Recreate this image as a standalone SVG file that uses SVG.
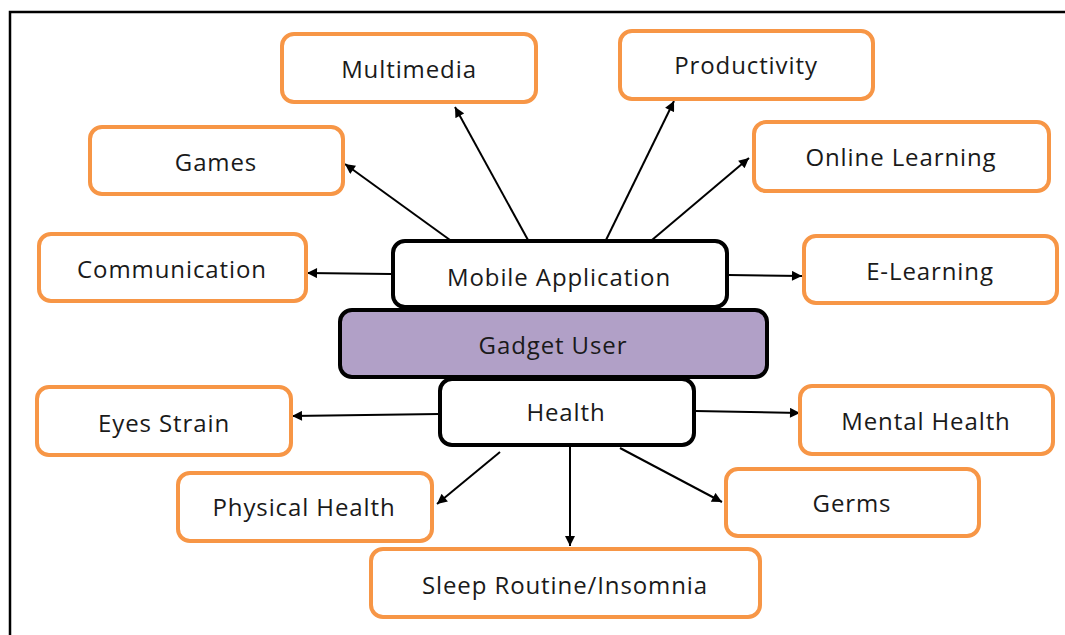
<svg xmlns="http://www.w3.org/2000/svg" width="1065" height="635" viewBox="0 0 1065 635">
<style>
.leaf rect{fill:#fff;stroke:#f79646;stroke-width:4}
.core rect{fill:#fff;stroke:#000;stroke-width:4}
#gadget rect{fill:#b1a0c7}
text{font-family:"Open Sans","Noto Sans",sans-serif;font-size:24px;letter-spacing:0.9px;fill:#1a1a1a;text-anchor:middle;dominant-baseline:central}
.conn line{stroke:#000;stroke-width:2;marker-end:url(#ah)}
</style>
<defs>
<marker id="ah" viewBox="0 0 10 10" refX="10" refY="5" markerWidth="11" markerHeight="10" markerUnits="userSpaceOnUse" orient="auto">
<path d="M0,0 L10,5 L0,10 z" fill="#000"/>
</marker>
</defs>
<rect x="0" y="0" width="1065" height="635" fill="#fff"/>
<path d="M10,635 V12 H1065" fill="none" stroke="#000" stroke-width="2.5"/>
<g class="conn">
<line x1="450" y1="240" x2="345" y2="164"/>
<line x1="528" y1="240" x2="455" y2="107"/>
<line x1="606" y1="240" x2="674" y2="101"/>
<line x1="652" y1="240" x2="749" y2="158"/>
<line x1="391" y1="274" x2="307" y2="273"/>
<line x1="728" y1="275" x2="802" y2="276"/>
<line x1="439" y1="414" x2="292" y2="416"/>
<line x1="695" y1="411" x2="800" y2="413"/>
<line x1="500" y1="452" x2="437" y2="504"/>
<line x1="570" y1="447" x2="570" y2="546"/>
<line x1="620" y1="448" x2="722" y2="502"/>
</g>
<g id="multimedia" class="leaf"><rect x="282" y="34" width="254" height="68" rx="12"/><text x="409" y="68">Multimedia</text></g>
<g id="productivity" class="leaf"><rect x="620" y="31" width="253" height="68" rx="12"/><text x="746" y="64">Productivity</text></g>
<g id="games" class="leaf"><rect x="90" y="127" width="253" height="67" rx="12"/><text x="216" y="161">Games</text></g>
<g id="online" class="leaf"><rect x="754" y="122" width="295" height="69" rx="12"/><text x="901" y="156">Online Learning</text></g>
<g id="communication" class="leaf"><rect x="39" y="234" width="267" height="67" rx="12"/><text x="172" y="268">Communication</text></g>
<g id="elearning" class="leaf"><rect x="804" y="236" width="253" height="67" rx="12"/><text x="930" y="270">E-Learning</text></g>
<g id="eyes" class="leaf"><rect x="37" y="387" width="254" height="68" rx="12"/><text x="164" y="422">Eyes Strain</text></g>
<g id="mental" class="leaf"><rect x="800" y="386" width="253" height="68" rx="12"/><text x="926" y="420">Mental Health</text></g>
<g id="physical" class="leaf"><rect x="178" y="473" width="254" height="68" rx="12"/><text x="304" y="506">Physical Health</text></g>
<g id="germs" class="leaf"><rect x="726" y="469" width="253" height="67" rx="12"/><text x="852" y="502">Germs</text></g>
<g id="sleep" class="leaf"><rect x="371" y="549" width="389" height="68" rx="12"/><text x="565" y="584">Sleep Routine/Insomnia</text></g>
<g id="mobile" class="core"><rect x="393" y="241" width="334" height="66" rx="12"/><text x="559" y="276">Mobile Application</text></g>
<g id="gadget" class="core"><rect x="340" y="310" width="427" height="67" rx="12"/><text x="553" y="344">Gadget User</text></g>
<g id="health" class="core"><rect x="440" y="379" width="254" height="66" rx="12"/><text x="566" y="411">Health</text></g>
</svg>
